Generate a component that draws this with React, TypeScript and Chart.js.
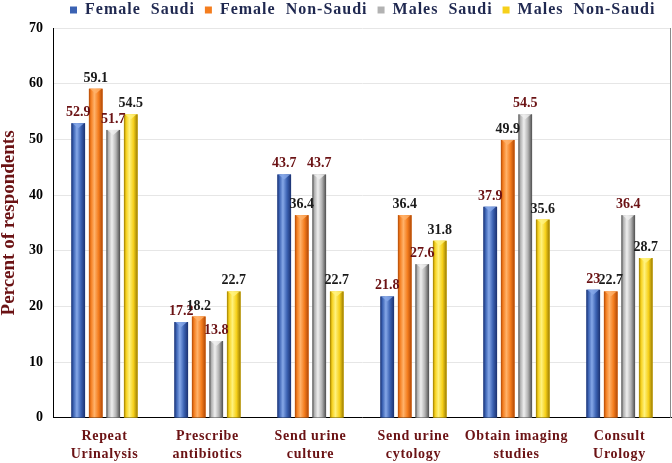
import React, { useEffect, useRef } from 'react';
import { Chart, registerables } from 'chart.js';

Chart.register(...registerables);

const categories: string[][] = [
  ['Repeat', 'Urinalysis'],
  ['Prescribe', 'antibiotics'],
  ['Send urine', 'culture'],
  ['Send urine', 'cytology'],
  ['Obtain imaging', 'studies'],
  ['Consult', 'Urology'],
];
const seriesNames = ['Female  Saudi', 'Female  Non-Saudi', 'Males  Saudi', 'Males  Non-Saudi'];
const femaleSaudi = [52.9, 17.2, 43.7, 21.8, 37.9, 23];
const femaleNonSaudi = [59.1, 18.2, 36.4, 36.4, 49.9, 22.7];
const malesSaudi = [51.7, 13.8, 43.7, 27.6, 54.5, 36.4];
const malesNonSaudi = [54.5, 22.7, 22.7, 31.8, 35.6, 28.7];
const yMax = 70;
const yStep = 10;

const baseColors = ['#3b62b3', '#f47d1e', '#b2b2b2', '#f6d01a'];
const darkColors = ['#1b3170', '#b04806', '#4e4e4e', '#9a7b00'];
const lightColors = ['#86a8e8', '#ffb26a', '#efefef', '#fff27e'];
const labelColors = ['#6b1214', '#1a1a1a', '#6b1214', '#1a1a1a'];

const FONT = "'Liberation Serif', 'Times New Roman', serif";

function withSpacing(obj: any, name: string, sp: string) {
  const orig = obj[name];
  if (!orig || orig._ls) return;
  const f = function (this: any, ...a: any[]) {
    const c = obj.ctx;
    const p = c.letterSpacing;
    c.letterSpacing = sp;
    try {
      return orig.apply(this, a);
    } finally {
      c.letterSpacing = p;
    }
  };
  (f as any)._ls = true;
  obj[name] = f;
}

const barStylePlugin = {
  id: 'barStyle',
  beforeLayout(chart: any) {
    if (chart.legend) {
      withSpacing(chart.legend, 'fit', '1px');
      withSpacing(chart.legend, 'draw', '1px');
    }
  },
  beforeDraw(chart: any) {
    if (chart.legend) chart.legend.left = 60;
    if (chart.scales.x) withSpacing(chart.scales.x, 'drawLabels', '0.7px');
  },
  beforeDatasetsDraw(chart: any) {
    const { ctx, chartArea } = chart;
    ctx.save();
    ctx.strokeStyle = '#8a8a8a';
    ctx.lineWidth = 1;
    ctx.beginPath();
    ctx.moveTo(chartArea.right - 0.5, chartArea.top);
    ctx.lineTo(chartArea.right - 0.5, chartArea.bottom);
    ctx.stroke();
    ctx.restore();
  },
  afterDatasetsDraw(chart: any) {
    const { ctx } = chart;
    ctx.save();
    chart.data.datasets.forEach((ds: any, di: number) => {
      const meta = chart.getDatasetMeta(di);
      meta.data.forEach((el: any) => {
        const { x, y, base, width } = el.getProps(['x', 'y', 'base', 'width'], true);
        const left = x - width / 2;
        const g = ctx.createLinearGradient(left, 0, left + width, 0);
        g.addColorStop(0, darkColors[di]);
        g.addColorStop(0.15, baseColors[di]);
        g.addColorStop(0.4, lightColors[di]);
        g.addColorStop(0.7, baseColors[di]);
        g.addColorStop(1, darkColors[di]);
        ctx.fillStyle = g;
        ctx.fillRect(left, y, width, base - y);
        ctx.fillStyle = lightColors[di];
        ctx.globalAlpha = 0.8;
        ctx.beginPath();
        ctx.moveTo(left + 1, y);
        ctx.lineTo(left + width - 1, y);
        ctx.lineTo(x, y + 5);
        ctx.closePath();
        ctx.fill();
        ctx.globalAlpha = 1;
      });
    });
    ctx.font = `bold 14px ${FONT}`;
    ctx.textAlign = 'center';
    ctx.textBaseline = 'alphabetic';
    chart.data.datasets.forEach((ds: any, di: number) => {
      const meta = chart.getDatasetMeta(di);
      meta.data.forEach((el: any, i: number) => {
        const { x, y } = el.getProps(['x', 'y'], true);
        ctx.fillStyle = labelColors[di];
        ctx.fillText(String(ds.data[i]), x, y - 7);
      });
    });
    ctx.restore();
  },
};

export default function App() {
  const ref = useRef<HTMLCanvasElement | null>(null);
  useEffect(() => {
    document.body.style.margin = '0';
    const seriesData = [femaleSaudi, femaleNonSaudi, malesSaudi, malesNonSaudi];
    const chart = new Chart(ref.current as HTMLCanvasElement, {
      type: 'bar',
      data: {
        labels: categories,
        datasets: seriesNames.map((name, i) => ({
          label: name,
          data: seriesData[i],
          backgroundColor: baseColors[i],
          borderWidth: 0,
          categoryPercentage: 0.68,
          barPercentage: 0.78,
        })),
      },
      options: {
        animation: false,
        responsive: true,
        maintainAspectRatio: false,
        layout: { padding: { left: 0, right: 1, top: -8, bottom: -9 } },
        plugins: {
          legend: {
            position: 'top',
            align: 'start',
            labels: {
              boxWidth: 7,
              boxHeight: 7,
              padding: 10,
              color: '#1f2850',
              font: { family: FONT, size: 16, weight: 'bold' },
            },
          },
          tooltip: { enabled: false },
        },
        scales: {
          x: {
            grid: { display: false, drawTicks: false },
            border: { color: '#000000', width: 1 },
            ticks: {
              color: '#6b1214',
              padding: 9,
              maxRotation: 0,
              autoSkip: false,
              font: { family: FONT, size: 14, weight: 'bold', lineHeight: 1.29 },
            },
          },
          y: {
            min: 0,
            max: yMax,
            ticks: {
              stepSize: yStep,
              color: '#000000',
              padding: 10,
              font: { family: FONT, size: 14, weight: 'bold' },
            },
            grid: { color: '#e6e6e6', drawTicks: false },
            border: { color: '#000000', width: 1 },
            title: {
              display: true,
              text: 'Percent of respondents',
              color: '#6b1214',
              padding: { top: 0, bottom: 0 },
              font: { family: FONT, size: 19, weight: 'bold', lineHeight: 1.0 },
            },
          },
        },
      },
      plugins: [barStylePlugin],
    });
    return () => chart.destroy();
  }, []);
  return (
    <div style={{ position: 'relative', width: 672, height: 463 }}>
      <canvas ref={ref} />
    </div>
  );
}
